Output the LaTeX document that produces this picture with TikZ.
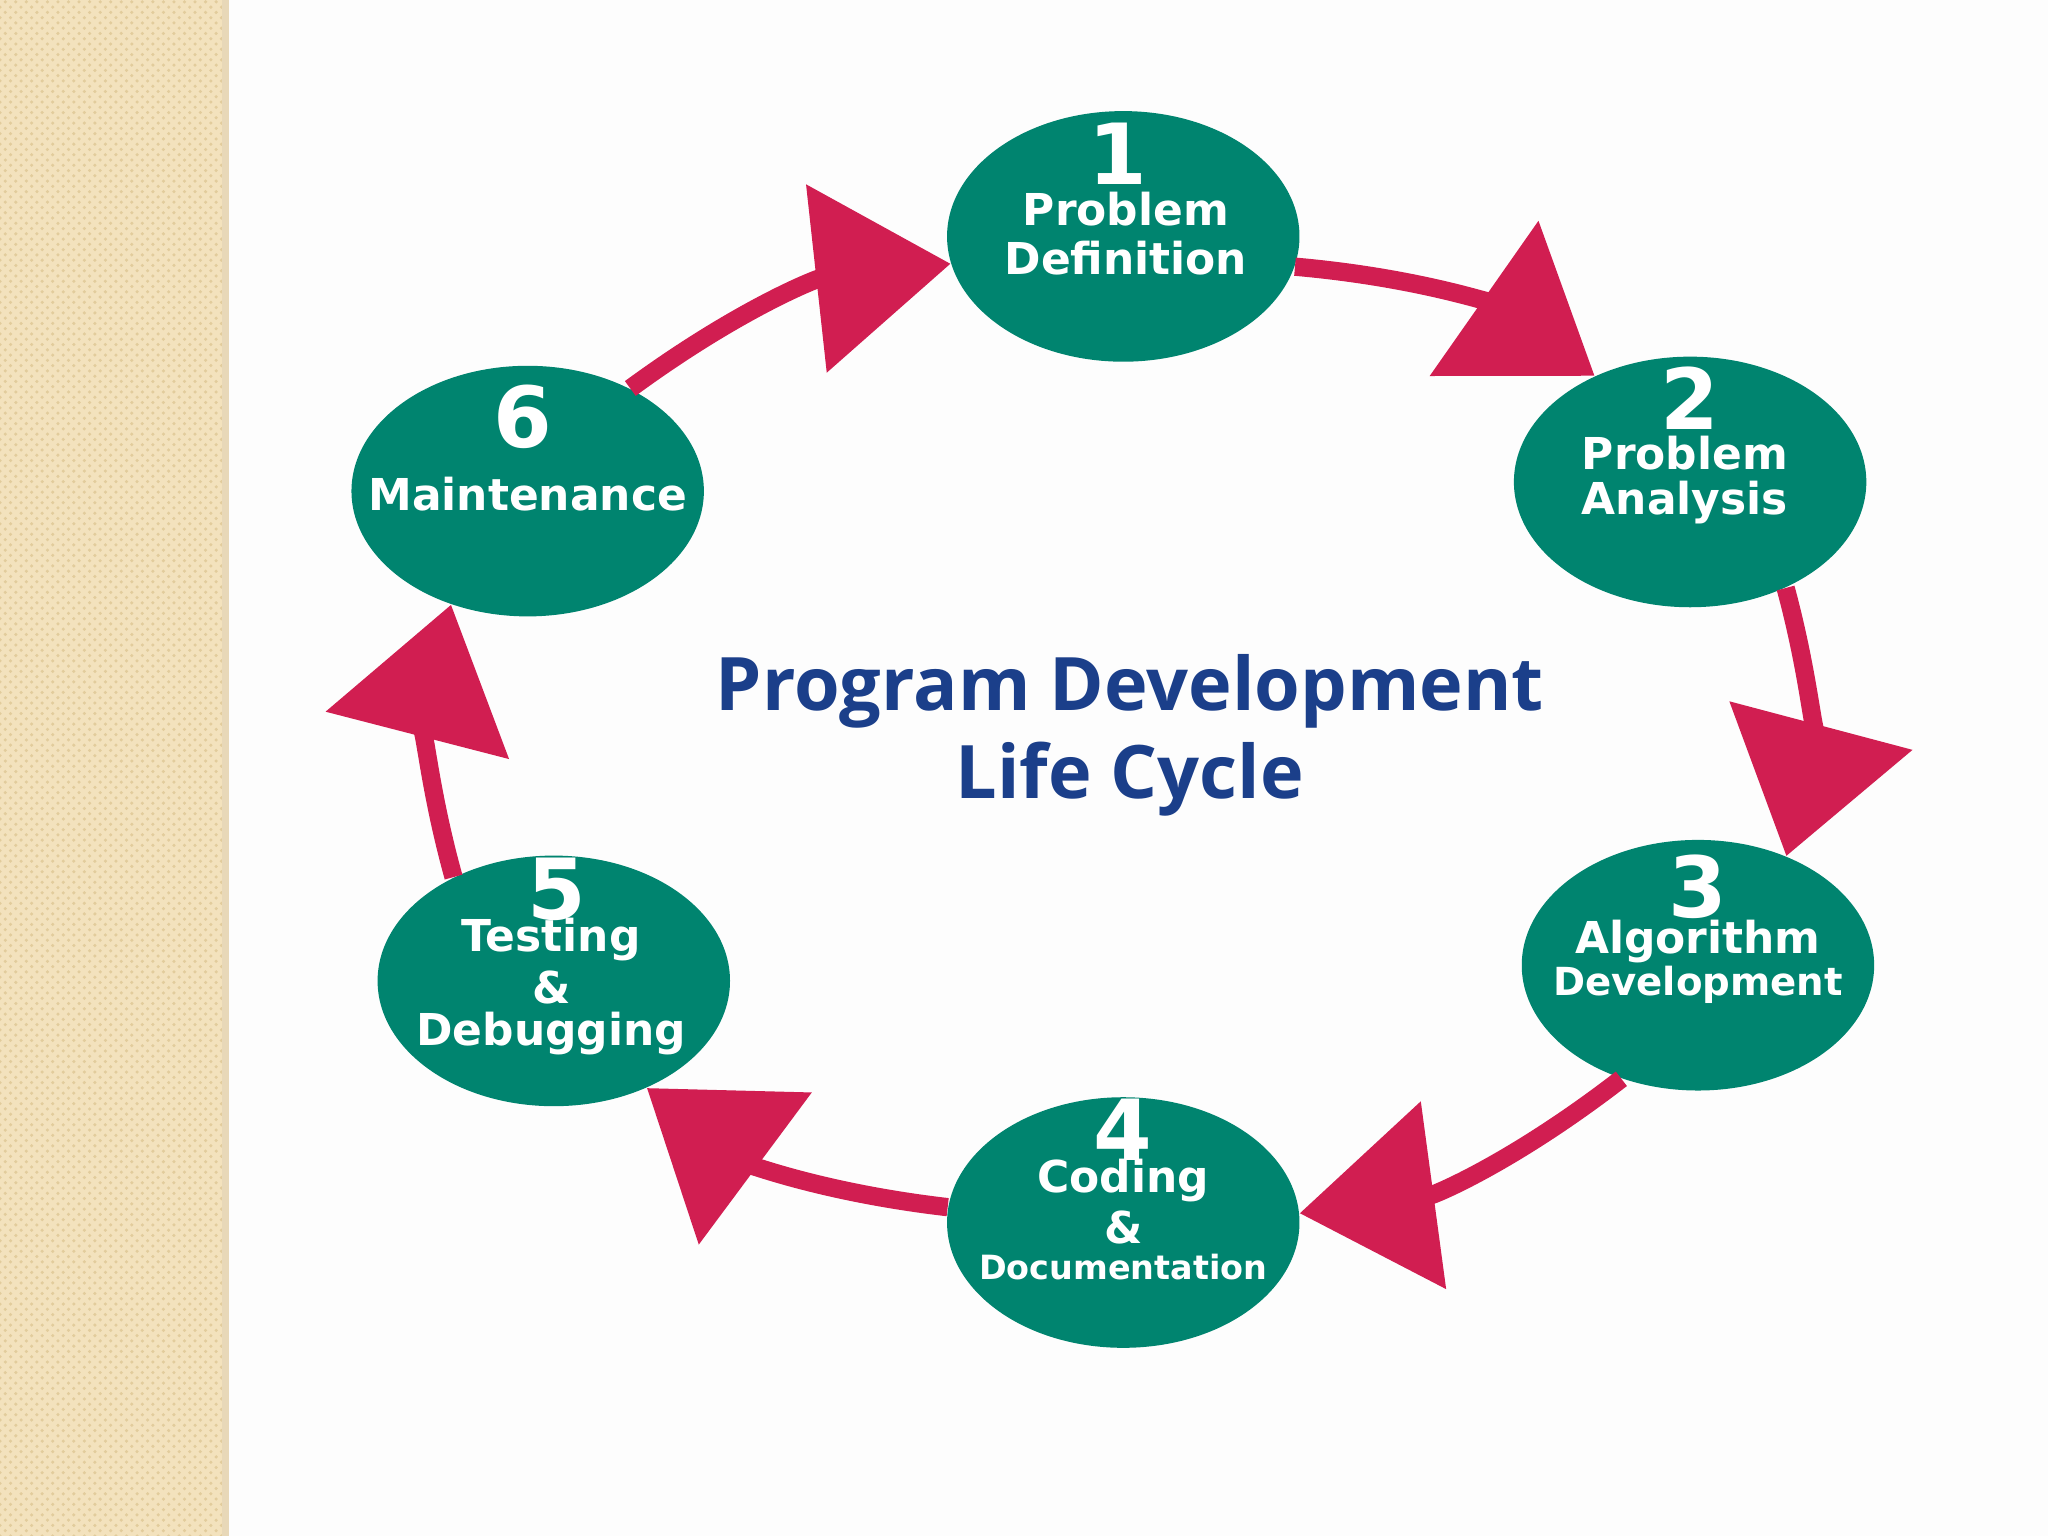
\documentclass[tikz,border=0pt]{standalone}
\usepackage{fontspec}
\setmainfont{DejaVu Sans}
\newfontfamily\titlefont{Open Sans}
\usetikzlibrary{arrows.meta,patterns,shapes.geometric}
\definecolor{teal1}{HTML}{00846F}
\definecolor{crim}{HTML}{D11E51}
\definecolor{navy}{HTML}{1B3F8A}
\definecolor{beige}{HTML}{F3E2BD}
\definecolor{beiged}{HTML}{E2CC9C}
\definecolor{bgw}{HTML}{FDFDFD}
\definecolor{edgeb}{HTML}{E8D8B8}
\tikzset{
  stage/.style={ellipse, fill=teal1, minimum width=270*1.306*0.01cm, minimum height=192*1.306*0.01cm, inner sep=0pt},
  num/.style={font=\bfseries\fontsize{24}{26}\selectfont},
  cyc/.style={draw=crim, line width=5.2pt, -{Triangle[width=1.85cm,length=1.35cm]}, bend left=15}
}
\begin{document}
\begin{tikzpicture}[x=0.01306cm,y=-0.01306cm]
\useasboundingbox (0,0) rectangle (1568,1176);
\fill[bgw] (0,0) rectangle (1568,1176);
\fill[beige] (0,0) rectangle (173,1176);
\fill[pattern=crosshatch dots, pattern color=beiged] (0,0) rectangle (173,1176);
\fill[edgeb] (170,0) rectangle (175,1176);
\node[stage] (n1) at (860,181) {};
\node[stage] (n2) at (1294,369) {};
\node[stage] (n3) at (1300,739) {};
\node[stage] (n4) at (860,936) {};
\node[stage] (n5) at (424,751) {};
\node[stage] (n6) at (404,376) {};
\begin{scope}[text=white, font=\bfseries\fontsize{12.5}{15}\selectfont]
\node[num] (t1) at (856,118) {1};
\node (t1a) at (862,160) {Problem};
\node (t1b) at (862,198) {Definition};
\node[num] (t2) at (1294,305) {2};
\node (t2a) at (1290,347) {Problem};
\node (t2b) at (1290,385) {Analysis};
\node[num] (t3) at (1300,679) {3};
\node (t3a) at (1300,721) {Algorithm};
\node[font=\bfseries\fontsize{11}{13}\selectfont] (t3b) at (1300,754) {Development};
\node[num] (t4) at (860,865) {4};
\node (t4a) at (860,904) {Coding};
\node (t4b) at (860,940) {\&};
\node[font=\bfseries\fontsize{9.5}{11}\selectfont] (t4c) at (860,970) {Documentation};
\node[num] (t5) at (426,681) {5};
\node (t5a) at (422,719) {Testing};
\node (t5b) at (422,756) {\&};
\node (t5c) at (422,791) {Debugging};
\node[num] (t6) at (400,319) {6};
\node (t6a) at (404,378) {Maintenance};
\end{scope}
\node[text=navy, font=\titlefont\bfseries\fontsize{21}{25}\selectfont, align=center] (title) at (865,563) {Program Development\\Life Cycle};
\draw[cyc] (n1.-10) to (n2.132);
\draw[cyc] (n2.-48) to (n3.51);
\draw[cyc] (n3.236) to (n4.3);
\draw[cyc] (n4.175) to (n5.-49);
\draw[cyc] (n5.134) to (n6.236);
\draw[cyc] (n6.45) to (n1.189);
\end{tikzpicture}
\end{document}
